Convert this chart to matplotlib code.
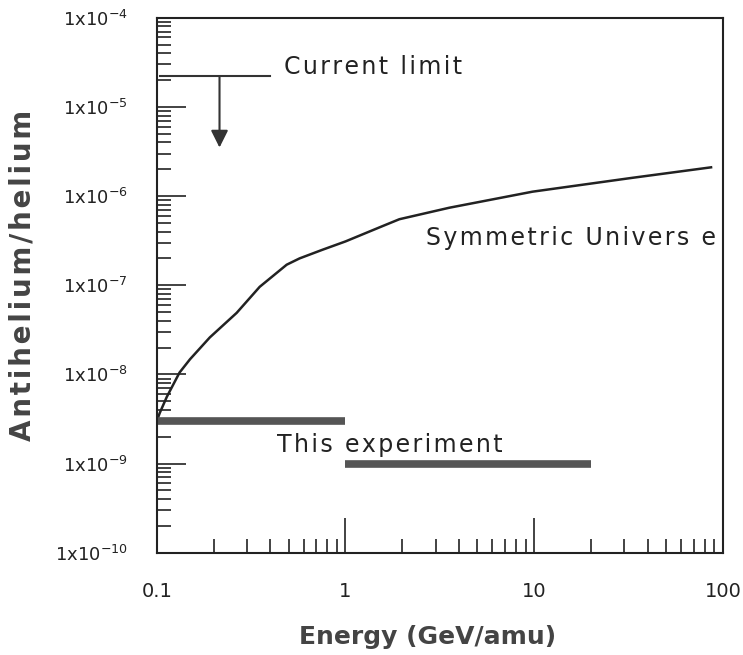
import matplotlib.pyplot as plt
import numpy as np

# Symmetric universe prediction (energy in GeV/amu, antihelium/helium ratio)
energy = [0.1, 0.1037, 0.113, 0.132, 0.150, 0.191, 0.265, 0.351, 0.488, 0.571,
          0.755, 1.0, 1.57, 1.93, 3.55, 9.8, 33, 86.5]
ratio = [3.0e-9, 3.7e-9, 5.6e-9, 1.05e-8, 1.48e-8, 2.6e-8, 4.9e-8, 9.6e-8, 1.7e-7, 2.0e-7,
         2.5e-7, 3.1e-7, 4.6e-7, 5.5e-7, 7.4e-7, 1.12e-6, 1.6e-6, 2.1e-6]

# Sensitivity of this experiment: (E_min, E_max, level)
exp_ranges = [(0.1, 1.0, 3e-9), (1.0, 20.0, 1e-9)]

# Current upper limit
limit_range = (0.104, 0.4)
limit_level = 2.2e-5
limit_arrow_x = 0.215
limit_arrow_to = 3.5e-6

xticks = [0.1, 1, 10, 100]
xtick_labels = ['0.1', '1', '10', '100']
yticks = [1e-10, 1e-9, 1e-8, 1e-7, 1e-6, 1e-5, 1e-4]
ytick_labels = [r'1x10$^{-%d}$' % k for k in [10, 9, 8, 7, 6, 5, 4]]


def spaced(s):
    # open up the letters a little with hair spaces
    return '\u200a'.join(s)


fig = plt.figure(figsize=(7.43, 6.55), dpi=100)
ax = fig.add_axes([0.211, 0.156, 0.762, 0.817])

ax.plot(energy, ratio, color='#222222', lw=1.8)

for e0, e1, lev in exp_ranges:
    ax.plot([e0, e1], [lev, lev], color='#555555', lw=5.5, solid_capstyle='butt')

ax.plot(limit_range, [limit_level, limit_level], color='#333333', lw=1.5)
ax.annotate('', xy=(limit_arrow_x, limit_arrow_to), xytext=(limit_arrow_x, limit_level),
            arrowprops=dict(arrowstyle='-|>', color='#333333', lw=1.5,
                            mutation_scale=26, shrinkA=0, shrinkB=0))

txt = dict(fontsize=17, va='center', ha='left', color='#222222')
ax.text(0.475, 2.8e-5, spaced('Current limit'), **txt)
ax.text(2.68, 3.4e-7, spaced('Symmetric Univers e'), **txt)
ax.text(0.436, 1.62e-9, spaced('This experiment'), **txt)

ax.set_xscale('log')
ax.set_yscale('log')
ax.set_xlim(0.1, 100)
ax.set_ylim(1e-10, 1e-4)

ax.set_xticks(xticks)
ax.set_xticklabels(xtick_labels)
ax.set_yticks(yticks)
ax.set_yticklabels(ytick_labels)

ax.tick_params(which='both', direction='in', width=1.2, top=False, right=False,
               colors='#222222')
ax.tick_params(axis='x', which='major', length=25, pad=21, labelsize=14)
ax.tick_params(axis='y', which='major', length=21, pad=21, labelsize=13)
ax.tick_params(which='minor', length=10)

for sp in ax.spines.values():
    sp.set_linewidth(1.5)
    sp.set_color('#222222')

ax.set_xlabel('Energy (GeV/amu)', fontsize=18, fontweight='bold', color='#444444')
ax.xaxis.set_label_coords(0.479, -0.135)
ax.set_ylabel(spaced('Antihelium/helium'), fontsize=20, fontweight='bold', color='#444444')
ax.yaxis.set_label_coords(-0.212, 0.518)

fig.savefig('out.png', dpi=100)
